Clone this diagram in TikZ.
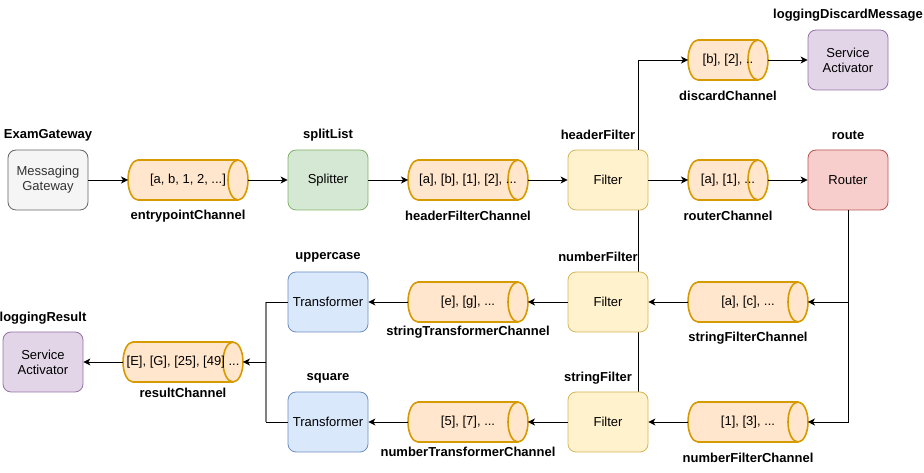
\documentclass[tikz,border=0pt]{standalone}
\usepackage{fontspec}
\setmainfont{Liberation Sans}
\usetikzlibrary{arrows.meta,backgrounds}
\definecolor{gwfill}{HTML}{F5F5F5}\definecolor{gwline}{HTML}{666666}\definecolor{gwtext}{HTML}{333333}
\definecolor{grfill}{HTML}{D5E8D4}\definecolor{grline}{HTML}{82B366}
\definecolor{yefill}{HTML}{FFF2CC}\definecolor{yeline}{HTML}{D6B656}
\definecolor{rdfill}{HTML}{F8CECC}\definecolor{rdline}{HTML}{B85450}
\definecolor{pufill}{HTML}{E1D5E7}\definecolor{puline}{HTML}{9673A6}
\definecolor{blfill}{HTML}{DAE8FC}\definecolor{blline}{HTML}{6C8EBF}
\definecolor{orfill}{HTML}{FFE6CC}\definecolor{orline}{HTML}{D79B00}
\definecolor{vgray}{HTML}{808080}
% channel: name, x, y, width, text
\newcommand\mkchan[5]{%
  \path[chanshape] (#2-#4/2+10,#3+20) -- (#2+#4/2-10,#3+20)
    arc[start angle=90,end angle=-90,x radius=10,y radius=20]
    -- (#2-#4/2+10,#3-20)
    arc[start angle=270,end angle=90,x radius=10,y radius=20] -- cycle;
  \draw[chanedge] (#2+#4/2-10,#3+20)
    arc[start angle=90,end angle=270,x radius=10,y radius=20];
  \node[chantext,minimum width=#4] (#1) at (#2,#3) {#5};
}
\begin{document}
\begin{tikzpicture}[x=1pt,y=1pt,
  font=\fontsize{13}{15}\selectfont,
  box/.style={rectangle,rounded corners=8pt,minimum width=80pt,minimum height=60pt,inner sep=0pt,align=center,line width=0.8pt},
  gwbox/.style={box,fill=gwfill,draw=gwline,text=gwtext},
  grbox/.style={box,fill=grfill,draw=grline},
  yebox/.style={box,fill=yefill,draw=yeline},
  rdbox/.style={box,fill=rdfill,draw=rdline},
  pubox/.style={box,fill=pufill,draw=puline},
  blbox/.style={box,fill=blfill,draw=blline},
  chanshape/.style={fill=orfill,draw=orline,line width=1.6pt},
  chanedge/.style={draw=orline,line width=1.6pt},
  chantext/.style={rectangle,minimum height=40pt,inner sep=0pt,outer sep=0pt},
  lbl/.style={font=\fontsize{13}{15}\selectfont\bfseries,inner sep=0pt},
  arr/.style={-{Stealth[length=7pt,width=7pt,inset=2pt]},line width=0.9pt},
  ln/.style={line width=0.9pt}
]
\useasboundingbox (0,0) rectangle (924,473);
% boxes
\node[gwbox] (gw) at (48,293) {Messaging\\Gateway};
\node[grbox] (split) at (328,293) {Splitter};
\node[yebox] (hf) at (608,293) {Filter};
\node[rdbox] (router) at (848,293) {Router};
\node[pubox] (sa1) at (848,413) {Service\\Activator};
\node[yebox] (numf) at (608,171) {Filter};
\node[yebox] (strf) at (608,51) {Filter};
\node[blbox] (up) at (328,171) {Transformer};
\node[blbox] (sq) at (328,51) {Transformer};
\node[pubox] (sa2) at (43,111) {Service\\Activator};
% channels
\mkchan{ep}{188}{293}{120}{[a, b, 1, 2, ...]}
\mkchan{hfc}{468}{293}{120}{[a], [b], [1], [2], ...}
\mkchan{rc}{728}{293}{80}{[a], [1], ...}
\mkchan{dc}{728}{413}{80}{[b], [2], ..}
\mkchan{sfc}{748}{171}{120}{[a], [c], ...}
\mkchan{nfc}{748}{51}{120}{[1], [3], ...}
\mkchan{stc}{468}{171}{120}{[e], [g], ...}
\mkchan{ntc}{468}{51}{120}{[5], [7], ...}
\mkchan{res}{183}{111}{120}{[E], [G], [25], [49] ...}
% labels
\node[lbl] (l1) at (48,338) {ExamGateway};
\node[lbl] (l2) at (328,338) {splitList};
\node[lbl] (l3) at (598,338) {headerFilter};
\node[lbl] (l4) at (848,338) {route};
\node[lbl] (l5) at (848,458) {loggingDiscardMessage};
\node[lbl] (l6) at (188,257) {entrypointChannel};
\node[lbl] (l7) at (468,257) {headerFilterChannel};
\node[lbl] (l8) at (728,257) {routerChannel};
\node[lbl] (l9) at (728,377) {discardChannel};
\node[lbl] (l10) at (598,216) {numberFilter};
\node[lbl] (l11) at (328,216) {uppercase};
\node[lbl] (l12) at (468,141) {stringTransformerChannel};
\node[lbl] (l13) at (748,135) {stringFilterChannel};
\node[lbl] (l14) at (43,155) {loggingResult};
\node[lbl] (l15) at (183,80) {resultChannel};
\node[lbl] (l16) at (328,95) {square};
\node[lbl] (l17) at (598,95) {stringFilter};
\node[lbl] (l18) at (468,21) {numberTransformerChannel};
\node[lbl] (l19) at (748,15) {numberFilterChannel};
% connectors
\begin{scope}[on background layer]
\draw[ln] ([xshift=30pt]hf.south) -- ([xshift=30pt]strf.north);
\end{scope}
\draw[arr] (gw) -- (ep);
\draw[arr] (ep) -- (split);
\draw[arr] (split) -- (hfc);
\draw[arr] (hfc) -- (hf);
\draw[arr] (hf) -- (rc);
\draw[arr] (rc) -- (router);
\draw[arr] ([xshift=30pt]hf.north) |- (dc.west);
\draw[arr] (dc) -- (sa1);
\draw[arr] (router.south) |- (sfc.east);
\draw[arr] (router.south) |- (nfc.east);
\draw[arr] (sfc) -- (numf);
\draw[arr] (numf) -- (stc);
\draw[arr] (stc) -- (up);
\draw[arr] (nfc) -- (strf);
\draw[arr] (strf) -- (ntc);
\draw[arr] (ntc) -- (sq);
\coordinate (j) at (266,111);
\draw[vgray,line width=1.6pt] (up.west -| j) -- (sq.west -| j);
\draw[ln] (up.west) -- (up.west -| j);
\draw[ln] (sq.west) -- (sq.west -| j);
\draw[arr] (j) -- (res.east);
\draw[arr] (res) -- (sa2);
\end{tikzpicture}
\end{document}
